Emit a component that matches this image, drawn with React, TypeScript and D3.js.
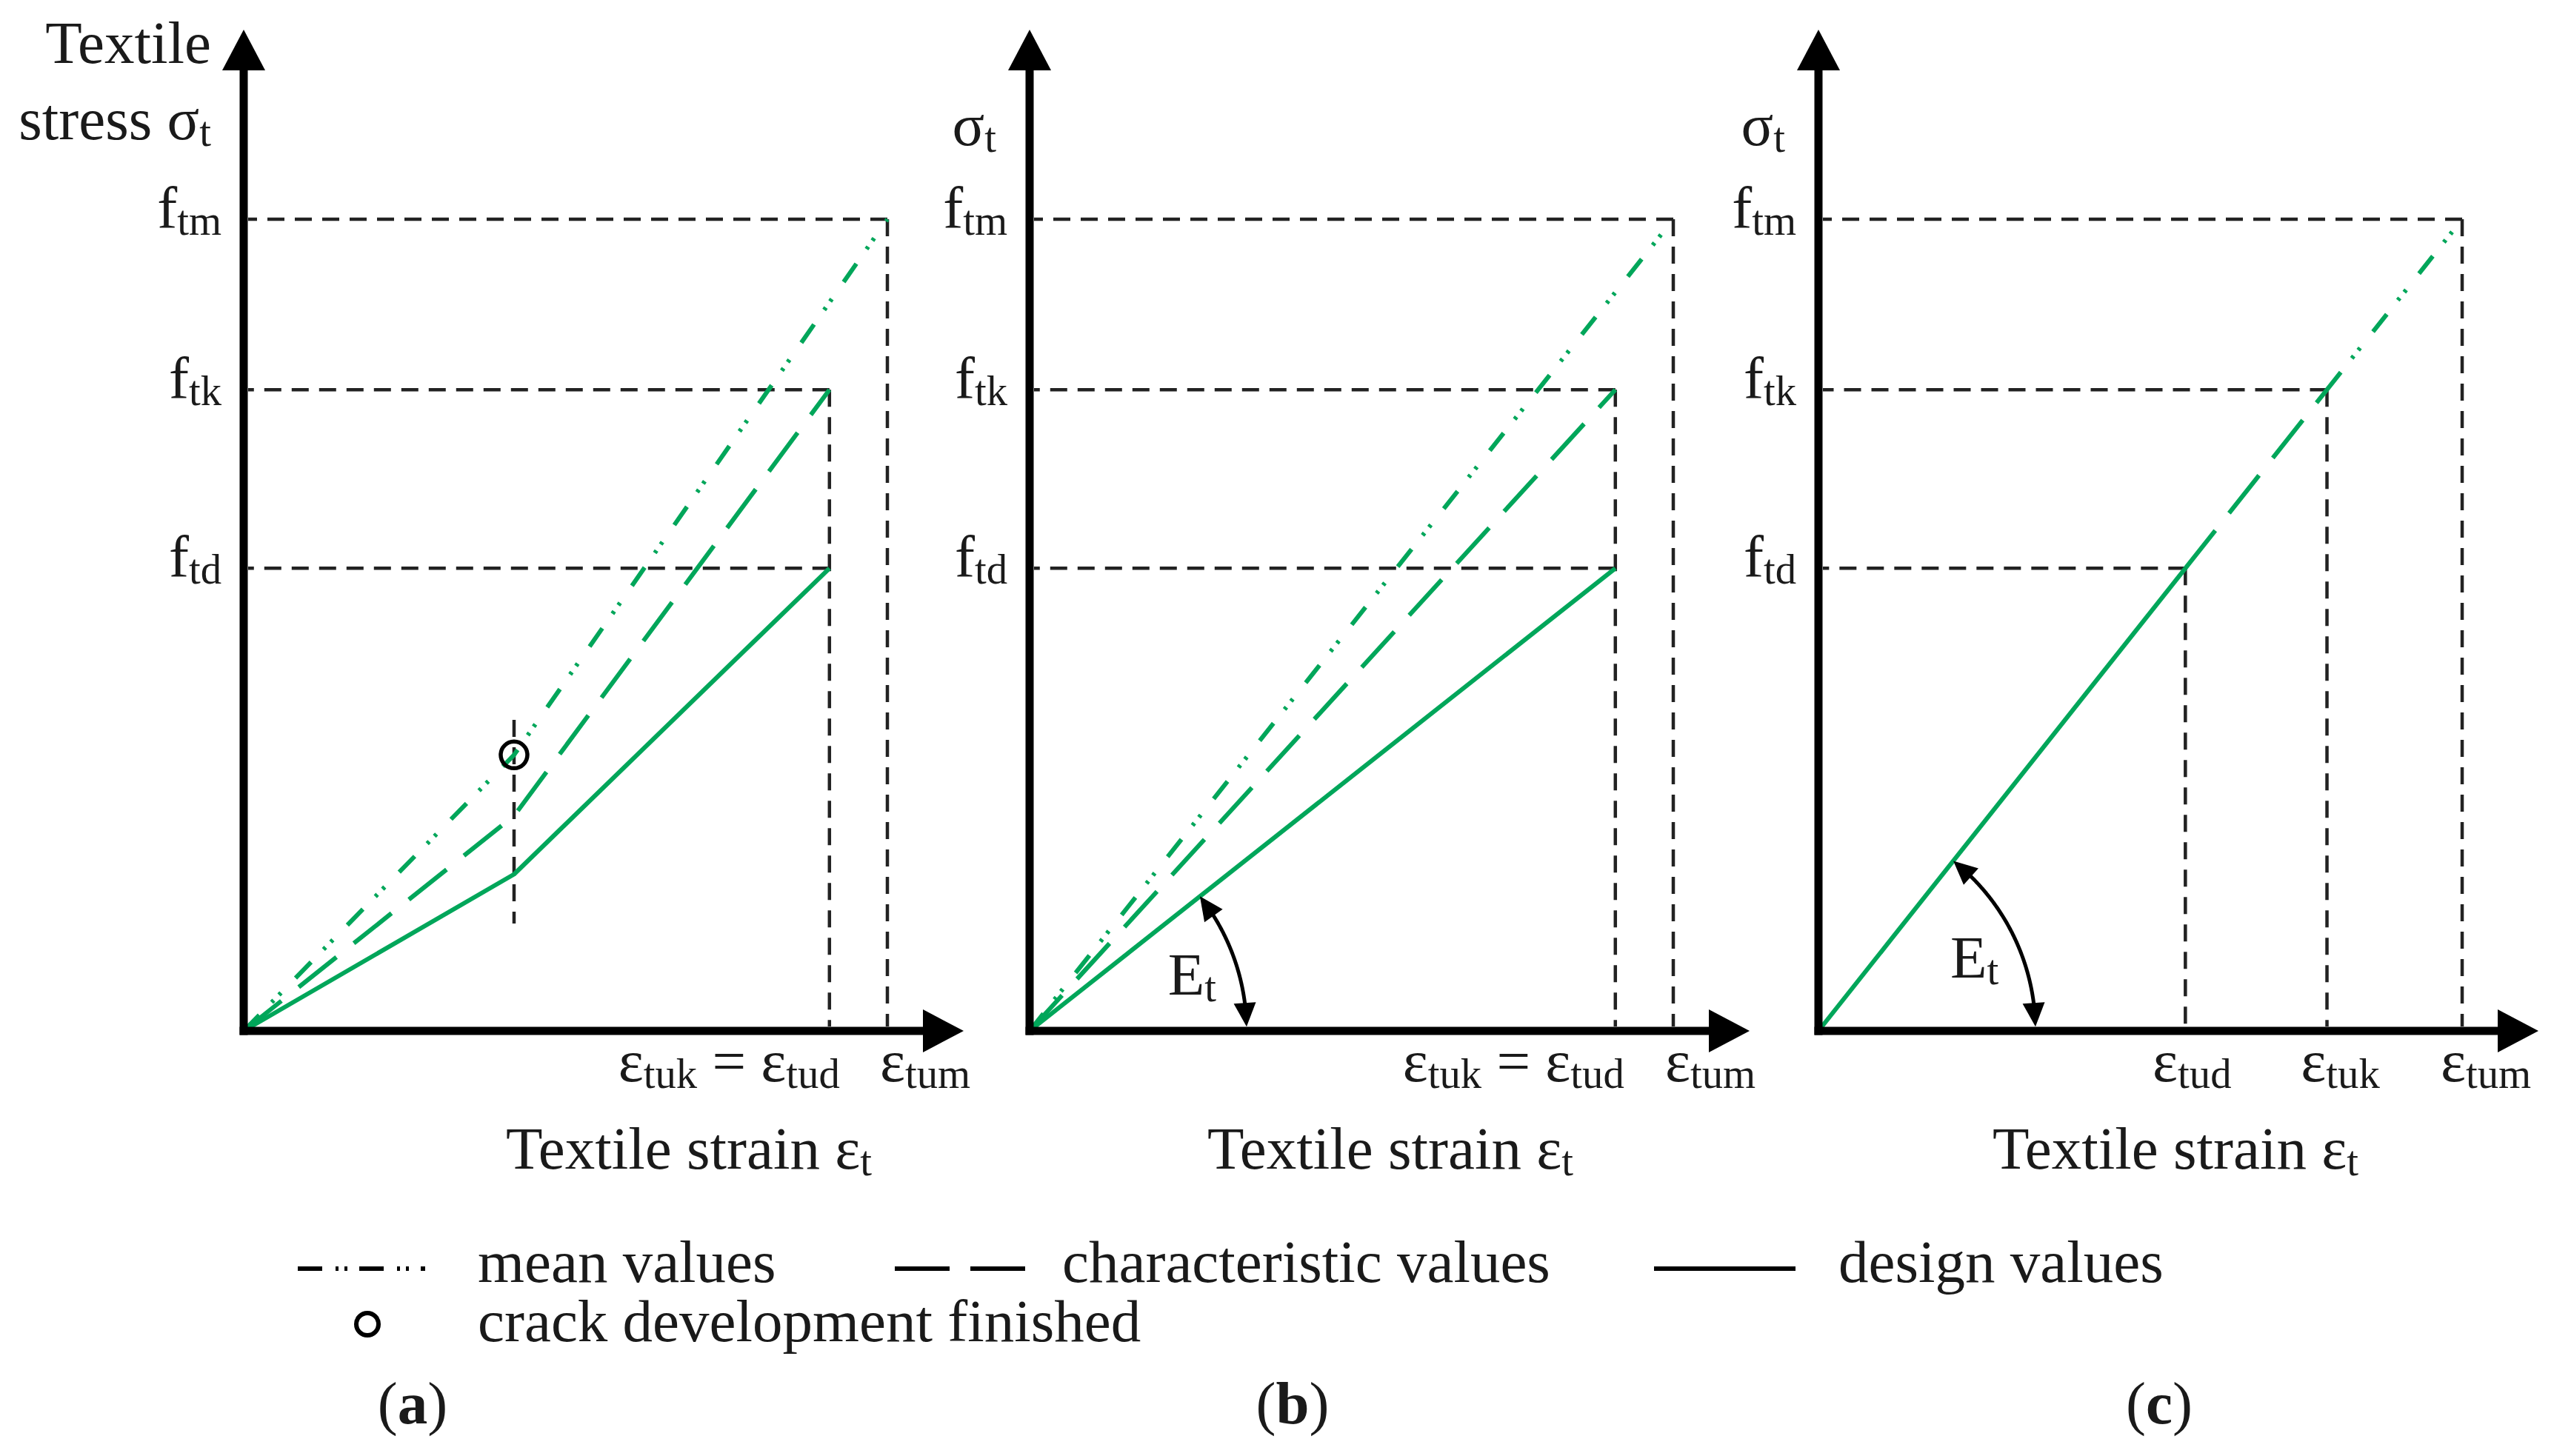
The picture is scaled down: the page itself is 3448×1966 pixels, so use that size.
import React from "react";
import * as d3 from "d3";

// ---------- data (normalised: eps_tum = 100, f_tm = 100) ----------
const stressSubs = ["tm", "tk", "td"];
const stressValues = [100, 79, 57];

const panelAMeanStrain = [0, 42, 100];
const panelAMeanStress = [0, 34, 100];
const panelACharStrain = [0, 42, 91];
const panelACharStress = [0, 26.5, 79];
const panelADesignStrain = [0, 42, 91];
const panelADesignStress = [0, 19.3, 57];
const crackStrain = 42;
const crackStress = 34;

const panelBMeanStrain = [0, 100];
const panelBMeanStress = [0, 100];
const panelBCharStrain = [0, 91];
const panelBCharStress = [0, 79];
const panelBDesignStrain = [0, 91];
const panelBDesignStress = [0, 57];

const panelCMeanStrain = [79, 100];
const panelCMeanStress = [79, 100];
const panelCCharStrain = [57, 79];
const panelCCharStress = [57, 79];
const panelCDesignStrain = [0, 57];
const panelCDesignStress = [0, 57];

const guideStrainAB = [100, 91, 91];
const guideStrainC = [100, 79, 57];

const legendLabels = ["mean values", "characteristic values", "design values", "crack development finished"];
const panelLetters = ["a", "b", "c"];

// ---------- layout ----------
const W = 3448;
const H = 1966;
const originXs = [329, 1390, 2455];
const originY = 1392;
const GREEN = "#00a65a";
const INK = "#1a1a1a";
const FONT = "Liberation Serif";
const FS = 81;

const MEAN_DASH = "30 24 4 10 4 28";
const CHAR_DASH = "65 30";
const GUIDE_DASH = "23 14";

type Part = { t: string; sub?: boolean; bold?: boolean };

function Rich({ x, y, anchor = "start", parts, size = FS }: { x: number; y: number; anchor?: string; parts: Part[]; size?: number }) {
  const sub = size * 0.7;
  return (
    <text x={x} y={y} textAnchor={anchor as any} fontFamily={FONT} fontSize={size} fill={INK}>
      {parts.map((p, i) => {
        const prevSub = i > 0 && !!parts[i - 1].sub;
        const dy = p.sub ? (prevSub ? 0 : 9) : prevSub ? -9 : 0;
        return (
          <tspan key={i} dy={dy} fontSize={p.sub ? sub : size} fontWeight={p.bold ? "bold" : undefined}>
            {p.t}
          </tspan>
        );
      })}
    </text>
  );
}

const x = d3.scaleLinear().domain([0, 100]).range([0, 869]);
const y = d3.scaleLinear().domain([0, 100]).range([originY, 296]);

function Axes({ ox }: { ox: number }) {
  const xEnd = ox + 972;
  const yTop = 40;
  return (
    <g>
      <line x1={ox} y1={originY + 5.5} x2={ox} y2={yTop + 50} stroke="#000" strokeWidth={11} />
      <line x1={ox - 5.5} y1={originY} x2={xEnd - 50} y2={originY} stroke="#000" strokeWidth={11} />
      <path d={`M${ox},${yTop} L${ox - 29},${yTop + 55} L${ox + 29},${yTop + 55} Z`} fill="#000" />
      <path d={`M${xEnd},${originY} L${xEnd - 55},${originY - 29} L${xEnd - 55},${originY + 29} Z`} fill="#000" />
    </g>
  );
}

function Guides({ ox, strains }: { ox: number; strains: number[] }) {
  const seen = new Set<number>();
  return (
    <g stroke="#222" strokeWidth={4.5} strokeDasharray={GUIDE_DASH} fill="none">
      {stressValues.map((s, i) => {
        const cx = ox + x(strains[i]);
        const cy = y(s);
        const vert = !seen.has(strains[i]);
        seen.add(strains[i]);
        return (
          <g key={i}>
            <line x1={cx} y1={cy} x2={ox + 6} y2={cy} />
            {vert && <line x1={cx} y1={cy} x2={cx} y2={originY - 6} />}
          </g>
        );
      })}
    </g>
  );
}

function Series({ ox, xs, ys, dash }: { ox: number; xs: number[]; ys: number[]; dash?: string }) {
  const gen = d3
    .line<number>()
    .x((_, i) => ox + x(xs[i]))
    .y((v) => y(v));
  return <path d={gen(ys) || ""} fill="none" stroke={GREEN} strokeWidth={6} strokeDasharray={dash} strokeLinejoin="round" />;
}

function StressLabels({ ox }: { ox: number }) {
  return (
    <g>
      {stressValues.map((s, i) => (
        <Rich key={i} x={ox - 30} y={y(s) + 12} anchor="end" parts={[{ t: "f" }, { t: stressSubs[i], sub: true }]} />
      ))}
    </g>
  );
}

function EtArc({ ox, sx, sy }: { ox: number; sx: number; sy: number }) {
  const r = 293;
  const th1 = Math.atan2(originY - y(sy), x(sx));
  const th0 = 0.02;
  const P = (t: number) => [ox + r * Math.cos(t), originY - r * Math.sin(t)];
  const len = 32;
  const d = len / r;
  const arc = d3.range(th0 + d * 0.8, th1 - d * 0.8 + 1e-9, 0.005).map(P);
  const head = (tip: number, base: number) => {
    const [tx, ty] = P(tip);
    const [bx, by] = P(base);
    const vx = tx - bx;
    const vy = ty - by;
    const L = Math.hypot(vx, vy);
    const nx = -vy / L;
    const ny = vx / L;
    return `M${tx},${ty} L${bx + nx * 15},${by + ny * 15} L${bx - nx * 15},${by - ny * 15} Z`;
  };
  const mid = th1 * 0.45;
  const [lx, ly] = [ox + 238 * Math.cos(mid), originY - 238 * Math.sin(mid)];
  return (
    <g>
      <path d={d3.line()(arc as [number, number][]) || ""} fill="none" stroke="#000" strokeWidth={5} />
      <path d={head(th1, th1 - d)} fill="#000" />
      <path d={head(th0, th0 + d)} fill="#000" />
      <Rich x={lx - 8} y={ly + 22} anchor="middle" parts={[{ t: "E" }, { t: "t", sub: true }]} />
    </g>
  );
}

const eps = (sub: string): Part[] => [{ t: "ε" }, { t: sub, sub: true }];

export default function App() {
  const [oa, ob, oc] = originXs;
  const xLabY = 1460;
  const titleY = 1578;
  const titleParts: Part[] = [{ t: "Textile strain ε" }, { t: "t", sub: true }];
  return (
    <svg width={W} height={H} style={{ position: "absolute", left: 0, top: 0, background: "#fff" }}>
      <rect width={W} height={H} fill="#fff" />

      {/* Panel (a) */}
      <Guides ox={oa} strains={guideStrainAB} />
      <line x1={oa + x(crackStrain)} x2={oa + x(crackStrain)} y1={972} y2={1247} stroke="#222" strokeWidth={4.5} strokeDasharray={GUIDE_DASH} />
      <Series ox={oa} xs={panelAMeanStrain} ys={panelAMeanStress} dash={MEAN_DASH} />
      <Series ox={oa} xs={panelACharStrain} ys={panelACharStress} dash={CHAR_DASH} />
      <Series ox={oa} xs={panelADesignStrain} ys={panelADesignStress} />
      <circle cx={oa + x(crackStrain)} cy={y(crackStress)} r={18} fill="none" stroke="#000" strokeWidth={5.5} />
      <Axes ox={oa} />
      <StressLabels ox={oa} />
      <Rich x={oa - 44} y={85} anchor="end" parts={[{ t: "Textile" }]} />
      <Rich x={oa - 44} y={188} anchor="end" parts={[{ t: "stress σ" }, { t: "t", sub: true }]} />
      <Rich x={oa + x(91) + 14} y={xLabY} anchor="end" parts={[...eps("tuk"), { t: " = " }, ...eps("tud")]} />
      <Rich x={oa + x(100) - 10} y={xLabY} anchor="start" parts={eps("tum")} />
      <Rich x={930} y={titleY} anchor="middle" parts={titleParts} />

      {/* Panel (b) */}
      <Guides ox={ob} strains={guideStrainAB} />
      <Series ox={ob} xs={panelBMeanStrain} ys={panelBMeanStress} dash={MEAN_DASH} />
      <Series ox={ob} xs={panelBCharStrain} ys={panelBCharStress} dash={CHAR_DASH} />
      <Series ox={ob} xs={panelBDesignStrain} ys={panelBDesignStress} />
      <EtArc ox={ob} sx={91} sy={57} />
      <Axes ox={ob} />
      <StressLabels ox={ob} />
      <Rich x={ob - 45} y={196} anchor="end" parts={[{ t: "σ" }, { t: "t", sub: true }]} />
      <Rich x={ob + x(91) + 12} y={xLabY} anchor="end" parts={[...eps("tuk"), { t: " = " }, ...eps("tud")]} />
      <Rich x={ob + x(100) - 11} y={xLabY} anchor="start" parts={eps("tum")} />
      <Rich x={1877} y={titleY} anchor="middle" parts={titleParts} />

      {/* Panel (c) */}
      <Guides ox={oc} strains={guideStrainC} />
      <Series ox={oc} xs={panelCMeanStrain} ys={panelCMeanStress} dash={MEAN_DASH} />
      <Series ox={oc} xs={panelCCharStrain} ys={panelCCharStress} dash={CHAR_DASH} />
      <Series ox={oc} xs={panelCDesignStrain} ys={panelCDesignStress} />
      <EtArc ox={oc} sx={57} sy={57} />
      <Axes ox={oc} />
      <StressLabels ox={oc} />
      <Rich x={oc - 45} y={196} anchor="end" parts={[{ t: "σ" }, { t: "t", sub: true }]} />
      <Rich x={oc + x(57) + 9} y={xLabY} anchor="middle" parts={eps("tud")} />
      <Rich x={oc + x(79) + 18} y={xLabY} anchor="middle" parts={eps("tuk")} />
      <Rich x={oc + x(100) + 32} y={xLabY} anchor="middle" parts={eps("tum")} />
      <Rich x={2937} y={titleY} anchor="middle" parts={titleParts} />

      {/* Legend */}
      <g stroke="#000" fill="none">
        <line x1={402} x2={574} y1={1713} y2={1713} strokeWidth={6} strokeDasharray="33 18 4 8 4 16" />
        <line x1={1208} x2={1384} y1={1713} y2={1713} strokeWidth={6} strokeDasharray="74 28" />
        <line x1={2233} x2={2424} y1={1713} y2={1713} strokeWidth={6} />
        <circle cx={496} cy={1788} r={15} strokeWidth={6} />
      </g>
      <Rich x={645} y={1731} parts={[{ t: legendLabels[0] }]} />
      <Rich x={1434} y={1731} parts={[{ t: legendLabels[1] }]} />
      <Rich x={2482} y={1731} parts={[{ t: legendLabels[2] }]} />
      <Rich x={645} y={1811} parts={[{ t: legendLabels[3] }]} />

      {[557, 1745, 2915].map((cx, i) => (
        <Rich key={i} x={cx} y={1922} anchor="middle" parts={[{ t: "(" }, { t: panelLetters[i], bold: true }, { t: ")" }]} />
      ))}
    </svg>
  );
}
